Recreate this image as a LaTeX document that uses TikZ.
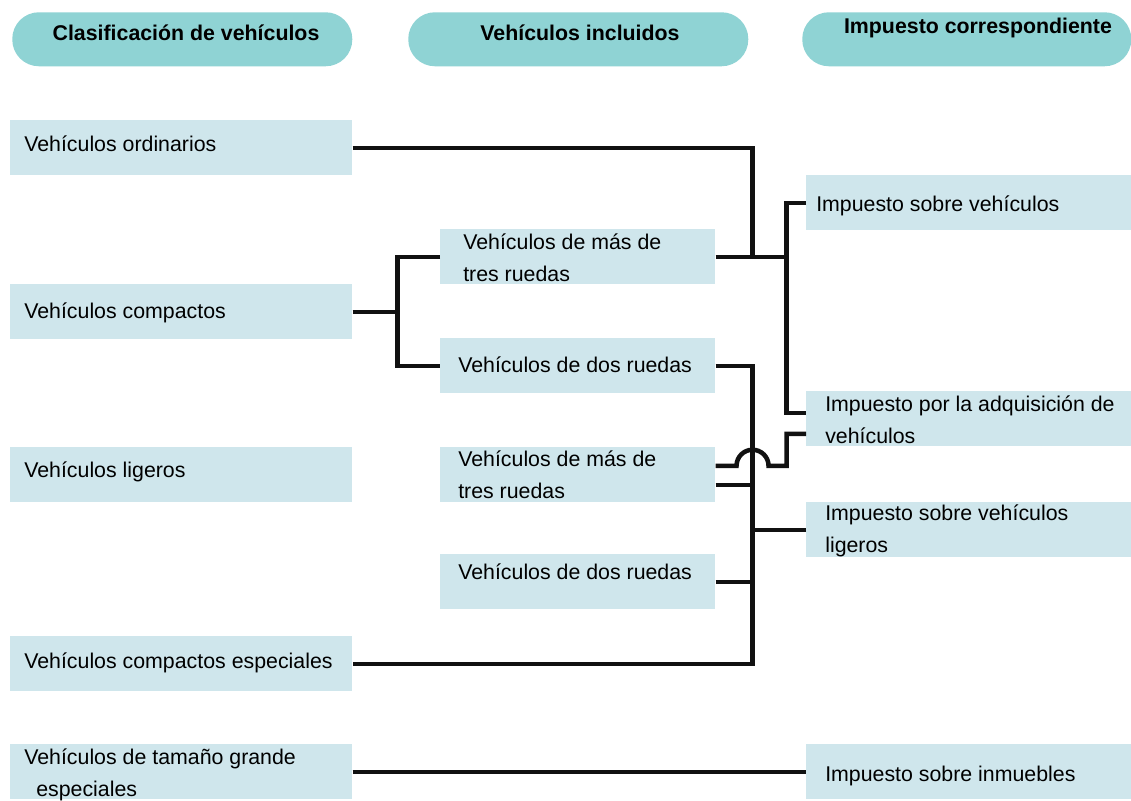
\documentclass[tikz,border=0pt]{standalone}
\usepackage{fontspec}
\setmainfont{Liberation Sans}
\usetikzlibrary{calc}
\definecolor{boxc}{RGB}{207,230,236}
\definecolor{headc}{RGB}{143,211,212}
\definecolor{linec}{RGB}{17,17,17}
\begin{document}
\begin{tikzpicture}[x=0.75pt,y=-0.75pt,
  box/.style={fill=boxc, inner sep=0, anchor=north west, minimum height=41.25pt},
  lbox/.style={box, minimum width=256.5pt},
  mbox/.style={box, minimum width=206.25pt},
  rbox/.style={box, minimum width=243.75pt},
  head/.style={fill=headc, rounded corners=20pt, inner sep=0, anchor=north west, minimum height=40.5pt},
  txt/.style={anchor=base west, align=left, inner sep=0, font=\fontsize{16}{23.5}\selectfont},
  htxt/.style={anchor=base, inner sep=0, font=\fontsize{16}{19}\selectfont\bfseries},
  conn/.style={draw=linec, line width=3.4pt}
]
\useasboundingbox (0,0) rectangle (1131,800);
\fill[white] (0,0) rectangle (1131,800);

% headers
\node[head, minimum width=255pt] (h1) at (12,12) {};
\node[head, minimum width=255pt] (h2) at (408,12) {};
\node[head, minimum width=246.75pt] (h3) at (802,12) {};
\node[htxt] (h1t) at (186,40) {Clasificación de vehículos};
\node[htxt] (h2t) at (580,40) {Vehículos incluidos};
\node[htxt] (h3t) at (978,33) {Impuesto correspondiente};

% left boxes
\node[lbox] (ord) at (10,120) {};
\node[lbox] (comp) at (10,284) {};
\node[lbox] (lig) at (10,447) {};
\node[lbox] (cesp) at (10,636) {};
\node[lbox] (gr) at (10,744) {};
\node[txt] (ordt) at (24,151) {Vehículos ordinarios};
\node[txt] (compt) at (24,318) {Vehículos compactos};
\node[txt] (ligt) at (24,477) {Vehículos ligeros};
\node[txt] (cespt) at (24,668) {Vehículos compactos especiales};
\node[txt] (grt) at (24,796) {Vehículos de tamaño grande\\\hspace{9pt}especiales};

% middle boxes
\node[mbox] (m1) at (440,229) {};
\node[mbox] (m2) at (440,338) {};
\node[mbox] (m3) at (440,447) {};
\node[mbox] (m4) at (440,554) {};
\node[txt] (m1t) at (463,281) {Vehículos de más de\\tres ruedas};
\node[txt] (m2t) at (458,372) {Vehículos de dos ruedas};
\node[txt] (m3t) at (458,498) {Vehículos de más de\\tres ruedas};
\node[txt] (m4t) at (458,579) {Vehículos de dos ruedas};

% right boxes
\node[rbox] (r1) at (806,175) {};
\node[rbox] (r2) at (806,391) {};
\node[rbox] (r3) at (806,502) {};
\node[rbox] (r4) at (806,744) {};
\node[txt] (r1t) at (816,211) {Impuesto sobre vehículos};
\node[txt] (r2t) at (825,443) {Impuesto por la adquisición de\\vehículos};
\node[txt] (r3t) at (825,552) {Impuesto sobre vehículos\\ligeros};
\node[txt] (r4t) at (825,781) {Impuesto sobre inmuebles};

% junction coordinates
\coordinate (jA) at ($(m1.east)+(37,0)$);
\coordinate (jB) at ($(m1.east)+(71,0)$);
\coordinate (jC) at ($(comp.east)+(45,0)$);
\coordinate (jD) at ($(m2.east)+(37,0)$);
\coordinate (m3a) at ($(m3.east)+(0,-9)$);
\coordinate (m3b) at ($(m3.east)+(0,10)$);
\coordinate (r2a) at ($(r2.west)+(0,-6)$);
\coordinate (r2b) at ($(r2.west)+(0,15)$);

% connectors
\draw[conn] (ord.east) -| (jA);
\draw[conn] (m1.east) -- (jB);
\draw[conn] (r1.west) -| (jB) |- (r2a);
\draw[conn] (comp.east) -- (jC);
\draw[conn] (m1.west) -| (jC) |- (m2.west);
\draw[conn] (m2.east) -- (jD) |- (cesp.east);
\draw[conn] (m3b) -- (m3b -| jD);
\draw[conn] (m4.east) -- (m4.east -| jD);
\draw[conn] (r3.west) -- (r3.west -| jD);
\draw[conn] (m3a) -- ++(21,0) arc[start angle=180, end angle=0, radius=12pt] -- (jB |- m3a) |- (r2b);
\draw[conn] (gr.east) -- (r4.west);
\end{tikzpicture}
\end{document}
